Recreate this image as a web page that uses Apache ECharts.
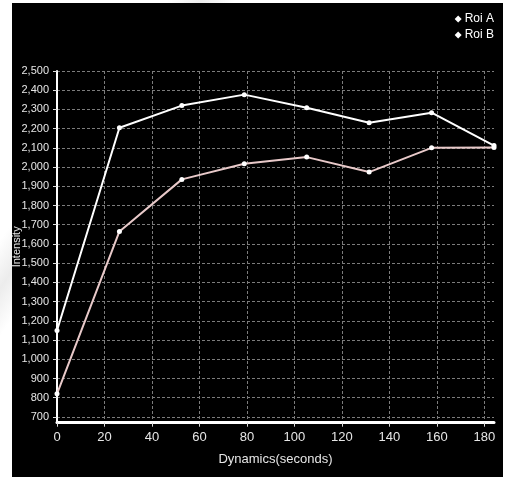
<!DOCTYPE html>
<html>
<head>
<meta charset="utf-8">
<script src="https://cdn.jsdelivr.net/npm/echarts@6/dist/echarts.min.js"></script>
<style>
  html, body { margin: 0; padding: 0; width: 506px; height: 479px; overflow: hidden;
    background: linear-gradient(125deg, #ffffff 0%, #ffffff 20%, #ececec 24%, #ffffff 28%, #ffffff 100%); }
  #chart { position: absolute; left: 12px; top: 3px; width: 491px; height: 474px; background: #000; }
</style>
</head>
<body>
<div id="chart"></div>
<script>
// Data
const seriesNames = ['Roi A', 'Roi B'];
const timeSeconds = [0, 26.3, 52.6, 78.9, 105.2, 131.5, 157.8, 184.1];
const roiA = [1150, 2205, 2320, 2377, 2309, 2231, 2283, 2112];
const roiB = [820, 1665, 1936, 2017, 2052, 1974, 2100, 2102];
const xTicks = [0, 20, 40, 60, 80, 100, 120, 140, 160, 180];
const yTicks = [700, 800, 900, 1000, 1100, 1200, 1300, 1400, 1500, 1600, 1700, 1800,
                1900, 2000, 2100, 2200, 2300, 2400, 2500];
const yMin = 670, yMax = 2500;
const xTitle = 'Dynamics(seconds)';
const yTitle = 'Intensity';

const font = "'Liberation Sans Narrow', 'Liberation Sans', sans-serif";
const labelColor = '#e6e6e6';
const gridLine = { show: true, lineStyle: { color: '#7c7c7c', type: [3, 2], width: 1 } };

const chart = echarts.init(document.getElementById('chart'), null, { renderer: 'canvas' });
chart.setOption({
  backgroundColor: '#000',
  animation: false,
  grid: { left: 45, right: 9, top: 68, bottom: 54.3, containLabel: false, outerBoundsMode: 'none' },
  legend: {
    data: seriesNames,
    orient: 'vertical',
    right: 4,
    top: 5,
    icon: 'diamond',
    itemWidth: 7,
    itemHeight: 7,
    itemGap: 4,
    textStyle: { color: '#ffffff', fontSize: 12, fontFamily: font, padding: [0, 0, 0, -2] }
  },
  xAxis: {
    type: 'value',
    min: 0,
    max: timeSeconds[timeSeconds.length - 1],
    name: xTitle,
    nameLocation: 'middle',
    nameGap: 30,
    nameMoveOverlap: false,
    nameTextStyle: { color: labelColor, fontSize: 13, fontFamily: font },
    axisLine: { show: true, onZero: false, lineStyle: { color: '#ffffff', width: 3 } },
    axisTick: { show: true, length: 4, customValues: xTicks, lineStyle: { color: '#dddddd' } },
    axisLabel: {
      color: labelColor, fontSize: 13, fontFamily: font, margin: 8,
      customValues: xTicks,
      formatter: v => String(v)
    },
    splitLine: gridLine
  },
  yAxis: {
    type: 'value',
    min: yMin,
    max: yMax,
    name: yTitle,
    nameLocation: 'middle',
    nameGap: 35,
    nameMoveOverlap: false,
    nameTextStyle: { color: labelColor, fontSize: 11, fontFamily: font },
    axisLine: { show: true, lineStyle: { color: '#ffffff', width: 2 } },
    axisTick: { show: true, length: 4, customValues: yTicks, lineStyle: { color: '#dddddd' } },
    axisLabel: {
      color: labelColor, fontSize: 11, fontFamily: font, margin: 8,
      customValues: yTicks,
      formatter: v => v.toLocaleString('en-US')
    },
    splitLine: gridLine
  },
  series: [
    {
      name: seriesNames[0],
      type: 'line',
      data: timeSeconds.map((t, i) => [t, roiA[i]]),
      symbol: 'circle',
      symbolSize: 5,
      itemStyle: { color: '#ffffff' },
      lineStyle: { color: '#ffffff', width: 2 },
      z: 3
    },
    {
      name: seriesNames[1],
      type: 'line',
      data: timeSeconds.map((t, i) => [t, roiB[i]]),
      symbol: 'circle',
      symbolSize: 5,
      itemStyle: { color: '#ffffff' },
      lineStyle: { color: '#e8c9c9', width: 2 },
      z: 2
    }
  ]
});
</script>
</body>
</html>
